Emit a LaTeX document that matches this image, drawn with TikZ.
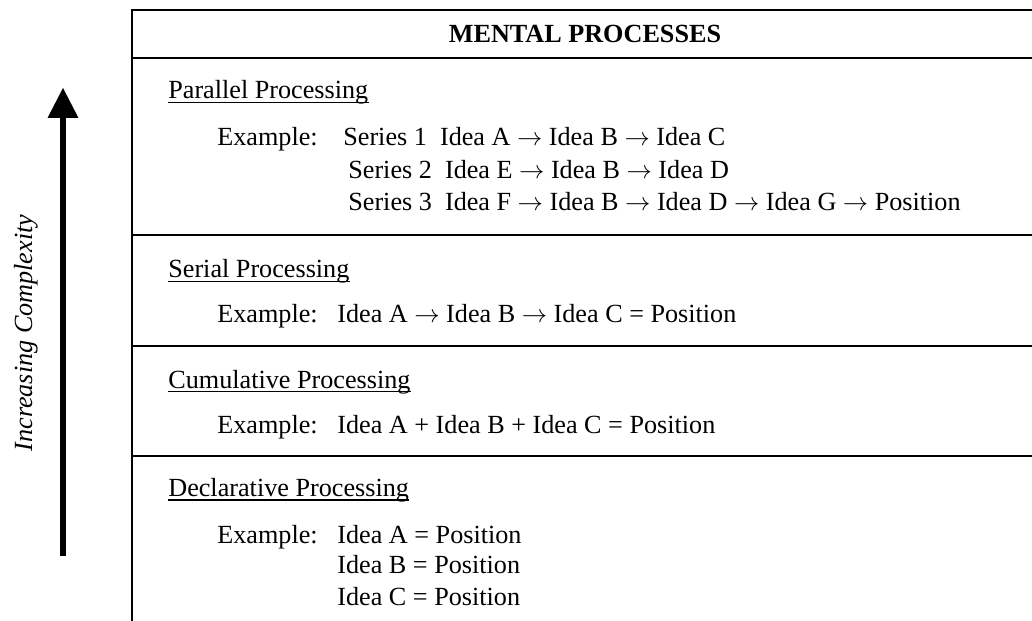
\documentclass[tikz,border=0pt]{standalone}
\usepackage{fontspec}
\setmainfont{Liberation Serif}
\usetikzlibrary{arrows.meta, positioning}

\begin{document}
\begin{tikzpicture}[x=0.02cm, y=-0.02cm,
                every node/.style={inner sep=0pt, font=\fontsize{14.9}{18}\selectfont},
                title/.style={anchor=base, font=\fontsize{14.9}{18}\selectfont\bfseries},
                head/.style={anchor=base west},
                txt/.style={anchor=base west},
                rule/.style={line width=1.1pt},
                uline/.style={line width=0.8pt},
                axisarrow/.style={line width=3.2pt, -{Triangle[length=0.6cm, width=0.62cm, line width=0pt]}}]

                \useasboundingbox (0,0) rectangle (1032,621);

                % Table frame
                \draw[rule] (1032,10) -- (132,10) -- (132,621);
                \foreach \y in {58,235,346,456}
                    \draw[rule] (132,\y) -- (1032,\y);

                % Title
                \node[title] (ttl) at (585,43) {MENTAL PROCESSES};

                % Parallel
                \node[head] (par) at (168,99) {Parallel Processing};
                \node[txt] (parex) at (217,145.5) {Example:};
                \node[txt] (s1) at (343,145.5) {Series 1\ \ Idea A $\rightarrow$ Idea B $\rightarrow$ Idea C};
                \node[txt] (s2) at (348,178.5) {Series 2\ \ Idea E $\rightarrow$ Idea B $\rightarrow$ Idea D};
                \node[txt] (s3) at (348,211) {Series 3\ \ Idea F $\rightarrow$ Idea B $\rightarrow$ Idea D $\rightarrow$ Idea G $\rightarrow$ Position};

                % Serial
                \node[head] (ser) at (168,278) {Serial Processing};
                \node[txt] (serex) at (217,322.7) {Example:};
                \node[txt] (serid) at (337,322.7) {Idea A $\rightarrow$ Idea B $\rightarrow$ Idea C = Position};

                % Cumulative
                \node[head] (cum) at (168,388.3) {Cumulative Processing};
                \node[txt] (cumex) at (217,433.3) {Example:};
                \node[txt] (cumid) at (337,433.3) {Idea A + Idea B + Idea C = Position};

                % Declarative
                \node[head] (dec) at (168,496.7) {Declarative Processing};
                \node[txt] (decex) at (217,543.3) {Example:};
                \node[txt] (deca) at (337,543.3) {Idea A = Position};
                \node[txt] (decb) at (337,574) {Idea B = Position};
                \node[txt] (decc) at (337,605) {Idea C = Position};

                % Underlined headings
                \foreach \n in {par,ser,cum,dec}
                    \draw[uline] ([yshift=-1.9pt]\n.base west) -- ([yshift=-1.9pt]\n.base east);

                % Complexity axis
                \coordinate (axisbot) at (63,556);
                \coordinate (axistop) at (63,88);
                \draw[axisarrow] (axisbot) -- (axistop);
                \node[rotate=90, anchor=base, font=\fontsize{14.9}{18}\selectfont\itshape] (cplx) at (32,333) {Increasing Complexity};
            \end{tikzpicture}
\end{document}
